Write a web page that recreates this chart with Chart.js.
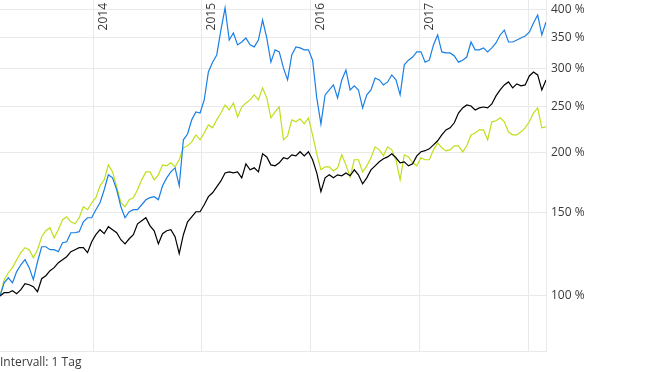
<!DOCTYPE html>
<html><head><meta charset="utf-8">
<script src="https://cdn.jsdelivr.net/npm/chart.js@4.4.1/dist/chart.umd.min.js"></script>
<style>html,body{margin:0;padding:0;background:#fff}#wrap{width:645px;height:372px;position:relative}</style>
</head><body><div id="wrap"><canvas id="c" width="645" height="372"></canvas></div>
<script>
// ---- data ----
const startDate = '2013-02-22';   // first sample
const stepDays = 14;              // sampling interval of the series
const yearTicks = [2014, 2015, 2016, 2017, 2018];
const yearLabels = ['2014', '2015', '2016', '2017'];
const yTickValues = [100, 150, 200, 250, 300, 350, 400];
const intervalText = 'Intervall: 1 Tag';

const blueSeries = [100,106.6,109.2,106.6,112.5,116.3,119.2,114.7,108.2,118,
126.9,126.9,125.1,125.1,123.9,129.4,130,135.8,135.8,136.5,
143.2,146,146,151.8,157,167.2,179.7,177.1,167.2,154,
146,150.3,151.8,151.8,155.5,159.3,160.9,161.7,159.3,170.4,
177.1,182.3,185.9,170.4,212.9,219,234.5,243.6,242.4,258.3,
295.6,310,321,362,403,345,357,337,341.8,348.5,
337,333.8,345,380,348.5,310,329,325.8,301.5,284.5,
321,333.8,332.2,329,329,313,260.8,229.9,264.6,271,
277.7,260.8,284.5,298.6,271,276.4,271,248.4,264.6,271,
287.2,284.5,277.7,281.7,291.4,284.5,264.6,306,313,317.8,
325.8,325.8,310,313,337,353.6,325.8,324.2,324.2,319.4,
310,313,317.8,341.8,329,329,332.2,325.8,332.2,340.2,
353.6,362,341.8,341.8,345,348.5,351.9,358.5,374.6,389.5,
353.6,376.4];

const greenSeries = [100,108.2,111.9,114.7,119.2,123.3,126.3,125.1,120.4,125.1,
133.2,137.1,139.1,132.5,137.8,144.6,146.7,143.2,141.8,146,
154,151.8,157,160.9,170.4,175.4,188.6,182.3,169.6,157,
154,159.3,160.9,167.2,175.4,182.3,182.3,175.4,179.7,188.6,
187.7,190.5,186.8,193.3,204.8,206.8,210.8,218,212.9,220.1,
228.8,225.6,234.5,242.4,252,246,254.5,237.7,249.5,254.5,
258.3,264.6,258.3,273.7,260.8,236.8,243.7,249.5,212.9,217,
234.5,232.3,235.6,230,236.8,218,198.9,184.1,186.8,186.8,
183.2,185.9,198,188.6,178,193.3,193.3,182.3,187.7,195.2,
205.8,202.8,197,205.8,202.8,193.3,175.4,198,196,190.5,
187.7,195.2,193.3,193.3,202.8,209.8,204.8,201.8,202.8,206.8,
206.8,200.8,206.8,218,220.1,223.4,223.4,212.9,232.3,233.4,
236.8,232.3,221.3,218,218,221.3,225.6,232.3,242.4,248.4,
225.6,226.7];

const blackSeries = [100,101.6,101.6,102.6,101.1,103.1,106.1,105.6,104.6,102.1,
108.7,110.3,113,114.7,117.5,119.2,120.9,123.9,125.1,126.3,
126.3,123.3,130,134.5,137.8,135.2,139.8,137.8,135.8,131.3,
128.7,131.9,134.5,141.8,143.9,146,140.4,137.1,128.7,135.2,
137.1,137.8,133.2,122.7,134.5,143.2,146.7,150.3,150.3,155.5,
161.7,164.8,169.6,174.5,181.4,182.3,181.4,182.3,177.1,189.5,
184.1,185.9,182.3,199,196,188.6,187.7,190.5,195.2,194.2,
198,197,201,197,201,193.3,181.4,165.6,177.1,179.7,
177.1,179.7,178.9,181.4,178.9,184.1,179.7,172,177.1,184.1,
187.7,191.4,194.2,196,199,195.2,190.5,191.4,187.7,189.5,
197,201,202,203.8,207.8,211.9,218,223.4,225.6,231.2,
242.4,248.4,252,250.8,246,248.4,249.5,248.4,253.2,263.3,
271,277.7,281.7,273.7,279,276.4,277.7,290,295.6,291.4,
271,284.5];

// ---- build ----
const DAY = 86400000;
const t0 = Date.parse(startDate + 'T00:00:00Z');
const dates = blueSeries.map((_, i) => t0 + i * stepDays * DAY);
const toPts = arr => arr.map((v, i) => ({x: dates[i], y: v}));

const FONT = '"Open Sans", "Noto Sans", sans-serif';
const GRID = '#e9e9e9';
const TEXT = '#3a3a3a';

const yearLabelPlugin = {
  id: 'yearLabels',
  beforeDatasetsDraw(chart) {
    const xs = chart.scales.x;
    const ctx = chart.ctx;
    ctx.save();
    ctx.font = '12px ' + FONT;
    ctx.fillStyle = TEXT;
    ctx.textAlign = 'right';
    ctx.textBaseline = 'alphabetic';
    yearLabels.forEach(lbl => {
      const px = xs.getPixelForValue(Date.UTC(+lbl, 0, 1));
      ctx.save();
      ctx.translate(px + 13.5, chart.chartArea.top + 3);
      ctx.rotate(-Math.PI / 2);
      ctx.fillText(lbl, 0, 0);
      ctx.restore();
    });
    ctx.restore();
  }
};

new Chart(document.getElementById('c'), {
  type: 'line',
  data: {
    datasets: [
      {label: 'Schwarz', data: toPts(blackSeries), borderColor: '#000000', borderWidth: 1.2},
      {label: 'Blau', data: toPts(blueSeries), borderColor: '#1a7fe4', borderWidth: 1.2},
      {label: 'Grün', data: toPts(greenSeries), borderColor: '#bde01a', borderWidth: 1.2}
    ]
  },
  options: {
    responsive: false,
    animation: false,
    layout: {padding: 0},
    elements: {point: {radius: 0}, line: {tension: 0, fill: false}},
    plugins: {
      legend: {display: false},
      tooltip: {enabled: false},
      title: {
        display: true, text: intervalText, position: 'bottom', align: 'start',
        color: TEXT, font: {family: FONT, size: 12, weight: 'normal', lineHeight: 1.2},
        padding: {top: 4, bottom: 2}
      }
    },
    scales: {
      x: {
        type: 'linear',
        min: dates[0], max: dates[dates.length - 1],
        afterBuildTicks: s => { s.ticks = yearTicks.map(y => ({value: Date.UTC(y, 0, 1)})); },
        ticks: {display: false},
        grid: {color: GRID, drawTicks: false, lineWidth: 1},
        border: {display: true, color: GRID}
      },
      y: {
        type: 'logarithmic',
        position: 'right',
        min: 76.4, max: 418.8,
        afterBuildTicks: s => { s.ticks = yTickValues.map(v => ({value: v})); },
        afterFit: s => { s.width = 99; s.paddingTop = 0; s.paddingBottom = 0; },
        ticks: {
          padding: 5, color: TEXT, font: {family: FONT, size: 12},
          callback: v => v + ' %'
        },
        grid: {color: GRID, drawTicks: false, lineWidth: 1},
        border: {display: true, color: GRID}
      }
    }
  },
  plugins: [yearLabelPlugin]
});
</script></body></html>
